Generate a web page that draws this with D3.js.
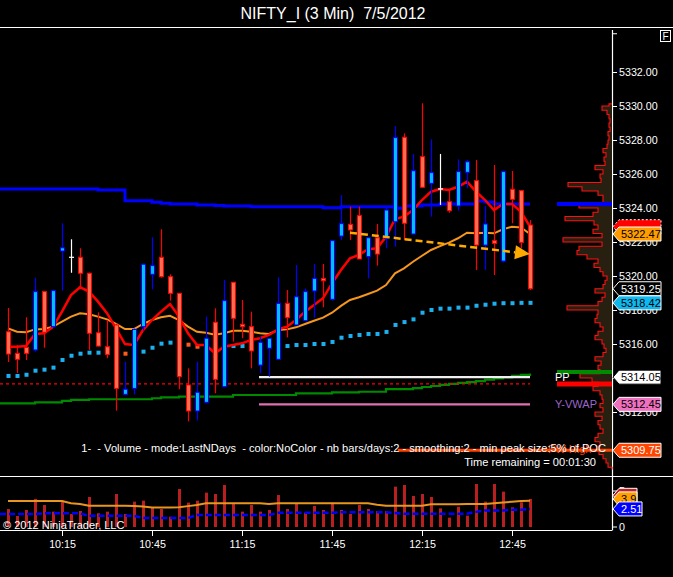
<!DOCTYPE html>
<html>
<head>
  <meta charset="UTF-8">
  <style>
    body { margin: 0; padding: 0; background: #000; }
    svg { display: block; font-family: Arial, "Liberation Sans", sans-serif; }
    text { white-space: pre; }
  </style>
</head>
<body>
<svg id="chart"></svg>
<script src="https://d3js.org/d3.v7.min.js"></script>
<script>
let width = 673, height = 577;

// 3 min bars, 7/5/2012
let opens  = [5316.72,5315.45,5315.80,5315.65,5319.08,5317.02,5321.47,5321.10,5321.10,5320.16,
              5316.66,5315.84,5317.12,5313.04,5313.39,5317.02,5320.10,5321.10,5319.96,5318.98,
              5313.59,5312.06,5312.57,5317.28,5313.49,5319.63,5317.16,5317.02,5314.76,5315.75,
              5315.10,5318.39,5317.12,5317.37,5319.12,5319.86,5318.63,5322.35,5323.04,5323.55,
              5321.14,5322.25,5322.22,5323.19,5328.16,5322.47,5327.02,5325.45,5325.12,5324.37,
              5324.12,5326.10,5325.61,5321.82,5322.08,5320.88,5325.10,5325.02,5323.00];
let highs  = [5318.12,5315.94,5317.57,5319.90,5319.10,5319.20,5323.10,5322.16,5321.63,5320.20,
              5317.86,5317.41,5317.20,5314.96,5316.90,5320.72,5322.28,5322.75,5320.10,5319.00,
              5314.57,5314.96,5317.61,5318.10,5319.76,5319.65,5318.59,5317.90,5316.43,5316.34,
              5319.92,5319.18,5320.65,5319.27,5320.71,5320.71,5322.10,5324.75,5324.08,5324.08,
              5322.25,5323.06,5324.08,5328.82,5328.39,5327.18,5330.16,5328.04,5327.18,5325.06,
              5326.86,5326.82,5326.82,5324.12,5326.53,5326.20,5326.18,5325.05,5323.29];
let lows   = [5314.94,5314.29,5315.06,5315.55,5315.78,5316.95,5319.14,5320.19,5319.34,5315.65,
              5315.85,5315.16,5312.08,5313.00,5313.04,5316.80,5319.22,5319.90,5318.55,5313.34,
              5311.45,5311.50,5312.50,5313.10,5313.45,5316.14,5316.34,5314.57,5314.28,5314.08,
              5315.05,5316.39,5317.10,5317.35,5317.55,5318.16,5318.55,5322.12,5322.12,5321.00,
              5319.86,5320.61,5321.63,5321.72,5322.12,5322.45,5325.20,5323.49,5324.18,5323.72,
              5323.84,5325.16,5320.35,5320.35,5320.06,5320.80,5323.10,5321.63,5319.18];
let closes = [5315.41,5315.10,5315.45,5319.08,5316.69,5319.14,5321.66,5321.10,5320.16,5316.63,
              5315.88,5315.39,5313.39,5313.34,5316.86,5320.69,5320.61,5319.96,5318.98,5314.08,
              5312.06,5313.16,5316.34,5313.92,5318.55,5317.51,5317.02,5315.59,5316.10,5316.34,
              5318.39,5317.55,5318.78,5319.08,5319.86,5319.72,5322.08,5323.08,5322.71,5321.00,
              5322.25,5321.29,5323.88,5328.14,5323.10,5326.19,5325.22,5326.08,5325.12,5323.84,
              5326.14,5326.72,5321.82,5323.06,5321.92,5326.14,5324.51,5321.98,5319.25];

// fast (red) and slow (orange) averages
let fastAvg = [5315.84,5315.84,5315.88,5316.59,5316.63,5317.00,5317.90,5318.88,5319.34,5319.08,
               5318.49,5317.81,5316.92,5316.00,5315.94,5316.82,5317.41,5317.90,5318.35,5317.61,
               5316.63,5315.94,5315.94,5315.45,5315.84,5315.94,5316.04,5316.24,5316.34,5316.53,
               5316.86,5317.02,5317.41,5317.90,5318.29,5318.69,5319.57,5320.35,5321.04,5321.24,
               5321.57,5321.63,5322.31,5323.35,5323.49,5323.88,5324.47,5324.96,5325.12,5325.06,
               5325.25,5325.55,5324.96,5324.47,5323.88,5324.24,5324.24,5323.78,5322.90];
let slowAvg = [5316.92,5316.72,5316.69,5316.86,5316.88,5317.02,5317.31,5317.61,5317.81,5317.75,
               5317.61,5317.45,5317.18,5316.88,5316.88,5317.18,5317.41,5317.57,5317.66,5317.41,
               5317.02,5316.72,5316.66,5316.55,5316.63,5316.78,5316.78,5316.72,5316.63,5316.59,
               5316.82,5316.86,5316.98,5317.18,5317.37,5317.55,5317.84,5318.24,5318.59,5318.75,
               5318.94,5319.14,5319.47,5320.16,5320.45,5320.84,5321.19,5321.53,5321.76,5321.96,
               5322.22,5322.55,5322.51,5322.55,5322.51,5322.75,5322.90,5322.86,5322.47];

// stop dots, 1 = orange (above price)
let stopDots = [5314.12,5314.12,5314.19,5314.43,5314.49,5314.61,5315.06,5315.31,5315.43,5315.49,
                5315.49,5315.49,5315.43,5315.43,5315.43,5315.55,5315.78,5316.02,5316.08,5316.08,
                5315.96,5315.84,5315.84,5315.82,5315.88,5315.88,5315.88,5315.88,5315.88,5315.88,
                5315.88,5315.88,5315.94,5315.94,5316.00,5316.00,5316.12,5316.37,5316.47,5316.53,
                5316.59,5316.59,5316.71,5317.12,5317.29,5317.45,5317.84,5318.00,5318.08,5318.08,
                5318.14,5318.14,5318.25,5318.31,5318.37,5318.40,5318.40,5318.42,5318.42];
let stopFlip = [0,0,0,0,0,0,0,0,0,0, 0,0,1,1,0,0,0,0,0,1, 1,1,1,1,0,0,0,0,1,1,
                0,0,0,0,0,0,0,0,0,0, 0,0,0,0,0,0,0,0,0,0, 0,0,0,0,0,0,0,0,0];

// VWAP (blue) and green step lines
let vwapLine = [5325.12,5325.12,5325.12,5325.12,5325.12,5325.12,5325.12,5325.12,5325.12,5325.12,
                5325.06,5325.06,5325.06,5324.43,5324.43,5324.43,5324.34,5324.28,5324.24,5324.24,
                5324.24,5324.18,5324.18,5324.14,5324.12,5324.12,5324.12,5324.08,5324.08,5324.08,
                5324.08,5324.08,5324.08,5324.08,5324.08,5324.02,5324.02,5324.08,5324.08,5324.08,
                5324.08,5324.08,5324.08,5323.98,5324.12,5324.12,5324.18,5324.18,5324.24,5324.24,
                5324.24,5324.24,5324.41,5324.35,5324.24,5324.24,5324.24,5324.24,5324.24];
let greenLine = [5312.51,5312.51,5312.51,5312.57,5312.57,5312.57,5312.65,5312.71,5312.71,5312.75,
                 5312.75,5312.75,5312.75,5312.75,5312.75,5312.75,5312.81,5312.86,5312.86,5312.90,
                 5312.90,5312.90,5312.90,5312.90,5312.90,5313.00,5313.00,5313.00,5313.00,5313.00,
                 5313.00,5313.00,5313.10,5313.10,5313.10,5313.10,5313.16,5313.16,5313.16,5313.19,
                 5313.19,5313.19,5313.34,5313.34,5313.34,5313.41,5313.47,5313.53,5313.59,5313.65,
                 5313.71,5313.76,5313.82,5313.91,5313.98,5314.04,5314.12,5314.18,5314.26];

let prevLevel = 5313.65;          // red dashed
let pivotPP = 5314.05, pivotFrom = 28;
let yVwap = 5312.45;
let pwHigh = 5309.75, pwHighFrom = 43.3;
let trendArrow = { fromBar: 38, fromPrice: 5322.55, toBar: 58, toPrice: 5321.29 };

// volume pane
let volumes = [2.5,1.53,2.36,3.89,3.06,2.13,3.66,1.8,2.22,4.17,
               1.9,2.13,4.58,1.8,3.52,3.66,2.73,2.5,1.43,5.28,
               3.38,3.66,4.77,4.58,5.83,3.19,2.13,3.06,2.13,2.36,
               4.44,2.5,3.29,1.99,2.92,2.36,3.38,2.36,1.8,3.06,
               2.5,2.22,2.22,5.6,5.83,4.31,4.58,4.17,2.59,1.3,
               2.82,1.57,5.97,3.52,5.97,4.91,2.73,3.43,3.89];
let volAvg = [3.61,3.61,3.61,3.61,3.61,3.61,3.61,3.3,3.2,2.95,
              2.95,2.95,2.95,2.95,2.92,2.85,2.7,2.7,2.7,2.75,
              2.9,3.05,3.29,3.29,3.29,3.29,3.29,3.29,3.29,3.2,
              3.29,3.29,3.29,3.29,3.29,3.29,3.29,3.29,3.29,3.29,
              3.29,3.1,2.95,2.95,2.95,2.95,2.95,3.15,3.15,3.15,
              3.15,3.2,3.2,3.2,3.3,3.4,3.5,3.6,3.65];
let volBlue = [1.8,1.8,1.8,1.8,1.9,1.9,1.9,1.9,1.9,1.55,
               1.55,1.55,1.55,1.55,1.55,1.25,1.25,1.25,1.25,1.25,
               1.25,1.67,1.67,1.67,1.67,1.67,1.67,1.67,1.67,1.67,
               1.97,1.97,1.97,1.97,1.97,1.97,1.97,2.04,2.04,2.04,
               2.04,2.04,2.04,1.95,1.85,1.85,1.85,1.85,1.85,1.85,
               1.85,1.85,2.1,2.3,2.3,2.3,2.4,2.4,2.51];

// volume profile, 0.25 steps down from 5330
let profileTop = 5330, profileStep = 0.25;
let profileWidths = [3,10,5,3,2,3,2,4,3,4, 5,9,6,8,7,17,9,12,11,44,
                     30,14,9,9,33,14,19,47,18,14, 19,10,49,10,33,35,25,14,18,12,
                     9,5,7,9,17,7,10,14,45,14, 15,17,12,9,14,17,10,8,6,9,
                     17,11,14,12,32,20,14,19,12,10, 9,12,9,17,10,14,12,9,14,17,
                     12,14,13,9,6,4];

let priceTicks = [5312,5314,5316,5318,5320,5322,5324,5326,5328,5330,5332];
let timeTickBars = [6,16,26,36,46,56];
let timeTickLabels = ["10:15","10:45","11:15","11:45","12:15","12:45"];

let svg = d3.select("#chart").attr("width", width).attr("height", height);
svg.append("rect").attr("width", width).attr("height", height).attr("fill", "#000");

let x = d3.scaleLinear().domain([0, 58]).range([8, 530]);
let y = d3.scaleLinear().domain([5312, 5332]).range([412, 72]);
let yVol = d3.scaleLinear().domain([0, 5]).range([527, 491]);
let xProf = d3.scaleLinear().domain([0, 55]).range([612, 557]);
let axisX = 612;

// title + frame
svg.append("text").attr("x", 333).attr("y", 19).attr("text-anchor", "middle")
    .attr("fill", "#fff").attr("font-size", 16).text("NIFTY_I (3 Min)  7/5/2012");

let frame = svg.append("g").attr("stroke", "#fff").attr("stroke-width", 1.2);
frame.append("line").attr("x1", 0).attr("x2", width).attr("y1", 27.5).attr("y2", 27.5);
frame.append("line").attr("x1", 0).attr("x2", width).attr("y1", 476.5).attr("y2", 476.5);
frame.append("line").attr("x1", 0).attr("x2", axisX).attr("y1", 530.5).attr("y2", 530.5);
frame.append("line").attr("x1", axisX + 0.5).attr("x2", axisX + 0.5).attr("y1", 30).attr("y2", 530.5);

svg.append("rect").attr("x", 660.5).attr("y", 30.5).attr("width", 10).attr("height", 11)
    .attr("fill", "#000").attr("stroke", "#fff");
svg.append("text").attr("x", 665.5).attr("y", 40).attr("text-anchor", "middle")
    .attr("fill", "#fff").attr("font-size", 10).text("F");

// volume profile (jagged outline through each level)
let profPts = [[axisX, y(profileTop + profileStep / 2)]];
profileWidths.forEach((w, i) => {
    profPts.push([xProf(w), y(profileTop - i * profileStep)]);
});
profPts.push([axisX, y(profileTop - (profileWidths.length - 1) * profileStep - profileStep / 2)]);
svg.append("path").attr("d", d3.line().curve(d3.curveStepAfter)(profPts))
    .attr("fill", "#272010").attr("stroke", "#ff1010").attr("stroke-width", 1.1);

// step lines
let stepLine = d3.line().x(d => d[0]).y(d => y(d[1])).curve(d3.curveStepAfter);
function stepPts(vals) {
    let pts = [[0, vals[0]]];
    vals.forEach((v, i) => pts.push([x(i), v]));
    return pts;
}
svg.append("path").attr("d", stepLine(stepPts(greenLine)))
    .attr("fill", "none").attr("stroke", "#008a00").attr("stroke-width", 2.2);
svg.append("path").attr("d", stepLine(stepPts(vwapLine)))
    .attr("fill", "none").attr("stroke", "#0000ff").attr("stroke-width", 3);

svg.append("line").attr("x1", 0).attr("x2", x(58)).attr("y1", y(prevLevel)).attr("y2", y(prevLevel))
    .attr("stroke", "#ff0000").attr("stroke-width", 1.3).attr("stroke-dasharray", "3,3");
svg.append("line").attr("x1", x(pivotFrom) - 1).attr("x2", x(58)).attr("y1", y(pivotPP)).attr("y2", y(pivotPP))
    .attr("stroke", "#f0f0f0").attr("stroke-width", 2.2);
svg.append("line").attr("x1", x(pivotFrom) - 1).attr("x2", x(58)).attr("y1", y(yVwap)).attr("y2", y(yVwap))
    .attr("stroke", "#e070b0").attr("stroke-width", 2.2);
svg.append("line").attr("x1", x(pwHighFrom)).attr("x2", axisX).attr("y1", y(pwHigh)).attr("y2", y(pwHigh))
    .attr("stroke", "#ff4500").attr("stroke-width", 3);

// right margin markers
let markers = [
    { v: vwapLine[58], c: "#0000ff", w: 4 },
    { v: greenLine[58] + 0.1, c: "#008a00", w: 4 },
    { v: prevLevel, c: "#ff0000", w: 5 }
];
markers.forEach(m => {
    svg.append("line").attr("x1", 557).attr("x2", axisX).attr("y1", y(m.v)).attr("y2", y(m.v))
        .attr("stroke", m.c).attr("stroke-width", m.w);
});

svg.append("text").attr("x", 555).attr("y", y(pivotPP) + 4).attr("fill", "#fff")
    .attr("font-size", 11).text("PP");
svg.append("text").attr("x", 555).attr("y", y(yVwap) + 4).attr("fill", "#9a66cc")
    .attr("font-size", 11).text("Y-VWAP");
svg.append("text").attr("x", 548).attr("y", y(pwHigh) + 3).attr("fill", "#ff4500")
    .attr("font-size", 11).text("PW High");

// stop dots
svg.append("g").selectAll("rect").data(stopDots).enter().append("rect")
    .attr("x", (d, i) => x(i) - 1.5).attr("y", d => y(d) - 2)
    .attr("width", 4).attr("height", 4)
    .attr("fill", (d, i) => stopFlip[i] ? "#ff5a1e" : "#1cb0f0");

// averages
let avgLine = d3.line().x((d, i) => x(i)).y(d => y(d)).curve(d3.curveLinear);
svg.append("path").attr("d", avgLine(slowAvg)).attr("fill", "none")
    .attr("stroke", "#f5961e").attr("stroke-width", 2);
svg.append("path").attr("d", avgLine(fastAvg)).attr("fill", "none")
    .attr("stroke", "#ff0000").attr("stroke-width", 2.5);

// candles
let bars = opens.map((o, i) => ({ i: i, o: o, h: highs[i], l: lows[i], c: closes[i] }));
let cg = svg.append("g");
bars.forEach(b => {
    let cx = x(b.i);
    let up = b.c > b.o, doji = b.c === b.o;
    let wick = doji ? "#fff" : (up ? "#0000ff" : "#ff0000");
    cg.append("line").attr("x1", cx + 0.5).attr("x2", cx + 0.5)
        .attr("y1", y(b.h)).attr("y2", y(b.l)).attr("stroke", wick).attr("stroke-width", 1.2);
    if (doji) {
        cg.append("line").attr("x1", cx - 2).attr("x2", cx + 3)
            .attr("y1", y(b.o)).attr("y2", y(b.o)).attr("stroke", "#fff").attr("stroke-width", 1.2);
    } else {
        let top = y(Math.max(b.o, b.c)), bot = y(Math.min(b.o, b.c));
        cg.append("rect").attr("x", cx - 1.5).attr("y", top)
            .attr("width", 4).attr("height", Math.max(1.5, bot - top))
            .attr("fill", up ? "#00bfff" : "#fa6e50")
            .attr("stroke", up ? "#0000ff" : "#ff0000").attr("stroke-width", 1);
    }
});

// trend arrow drawing
let ax1 = x(trendArrow.fromBar), ay1 = y(trendArrow.fromPrice);
let ax2 = x(trendArrow.toBar), ay2 = y(trendArrow.toPrice);
let ang = Math.atan2(ay2 - ay1, ax2 - ax1);
let bx = ax2 - 15 * Math.cos(ang), by = ay2 - 15 * Math.sin(ang);
svg.append("line").attr("x1", ax1).attr("y1", ay1).attr("x2", bx).attr("y2", by)
    .attr("stroke", "#ffaa00").attr("stroke-width", 2.5).attr("stroke-dasharray", "7,4");
svg.append("path")
    .attr("d", `M${ax2},${ay2}L${bx + 7 * Math.sin(ang)},${by - 7 * Math.cos(ang)}L${bx - 7 * Math.sin(ang)},${by + 7 * Math.cos(ang)}Z`)
    .attr("fill", "#ffaa00");

// indicator text
svg.append("text").attr("x", 606).attr("y", 452).attr("text-anchor", "end").attr("fill", "#fff")
    .attr("font-size", 11.1)
    .text("1-  - Volume - mode:LastNDays  - color:NoColor - nb bars/days:2 - smoothing:2 - min peak size:5% of POC");
svg.append("text").attr("x", 596).attr("y", 466).attr("text-anchor", "end").attr("fill", "#fff")
    .attr("font-size", 11.1).text("Time remaining = 00:01:30");

// price tags (drawn over the axis)
let f2 = d3.format(".2f");
let priceTags = [
    { v: fastAvg[58], txt: "", fill: "#ff0000", color: "#fff", dash: "2,2" },
    { v: slowAvg[58], txt: f2(slowAvg[58]), fill: "#ff9c00", color: "#000" },
    { v: closes[58], txt: f2(closes[58]), fill: "#000", color: "#fff" },
    { v: stopDots[58], txt: f2(stopDots[58]), fill: "#10b8f0", color: "#000" },
    { v: pivotPP, txt: f2(pivotPP), fill: "#fff", color: "#000", stroke: "#000" },
    { v: yVwap, txt: f2(yVwap), fill: "#f070c0", color: "#000" },
    { v: pwHigh, txt: f2(pwHigh), fill: "#ff4500", color: "#fff" }
];

// price axis; labels fully under a tag are not drawn
let ag = svg.append("g");
priceTicks.forEach(p => {
    ag.append("line").attr("x1", axisX).attr("x2", axisX + 5).attr("y1", y(p) + 0.5).attr("y2", y(p) + 0.5)
        .attr("stroke", "#fff");
    let covered = priceTags.some(t => t.txt && Math.abs(y(t.v) - y(p)) < 4);
    if (!covered) {
        ag.append("text").attr("x", axisX + 7).attr("y", y(p) + 4).attr("fill", "#fff")
            .attr("font-size", 10.7).text(f2(p));
    }
});
ag.append("line").attr("x1", axisX).attr("x2", axisX + 5).attr("y1", y(5334.25)).attr("y2", y(5334.25))
    .attr("stroke", "#fff");

function tag(yc, txt, fill, color, right, stroke, dash) {
    let g = svg.append("g");
    g.append("path")
        .attr("d", `M${axisX + 1},${yc}L${axisX + 7},${yc - 7}L${right},${yc - 7}L${right},${yc + 7}L${axisX + 7},${yc + 7}Z`)
        .attr("fill", fill).attr("stroke", stroke || "#fff").attr("stroke-width", 1)
        .attr("stroke-dasharray", dash || null);
    if (txt) {
        g.append("text").attr("x", axisX + 9).attr("y", yc + 4).attr("fill", color)
            .attr("font-size", 11).text(txt);
    }
}
priceTags.forEach(t => tag(y(t.v), t.txt, t.fill, t.color, 661, t.stroke, t.dash));

// volume pane
svg.append("g").selectAll("rect").data(volumes).enter().append("rect")
    .attr("x", (d, i) => x(i) - 1).attr("y", d => yVol(d))
    .attr("width", 3).attr("height", d => yVol(0) - yVol(d))
    .attr("fill", "#b82020");
svg.append("path").attr("d", d3.line().x((d, i) => x(i)).y(d => yVol(d))(volAvg))
    .attr("fill", "none").attr("stroke", "#e8961e").attr("stroke-width", 2);
svg.append("path")
    .attr("d", d3.line().x(d => d[0]).y(d => yVol(d[1]))([[0, volBlue[0]]].concat(volBlue.map((v, i) => [x(i), v]))))
    .attr("fill", "none").attr("stroke", "#0000ff").attr("stroke-width", 2.5).attr("stroke-dasharray", "6,3");

[0, 5].forEach(v => {
    svg.append("line").attr("x1", axisX).attr("x2", axisX + 5).attr("y1", yVol(v)).attr("y2", yVol(v))
        .attr("stroke", "#fff");
    svg.append("text").attr("x", axisX + 7).attr("y", yVol(v) + 4).attr("fill", "#fff")
        .attr("font-size", 10.7).text(v);
});
tag(yVol(4.4), "", "#c02020", "#fff", 637);
tag(yVol(3.9), "3.9", "#ffa000", "#000", 637);
tag(yVol(volBlue[58]), f2(volBlue[58]), "#0000ff", "#fff", 642);

svg.append("text").attr("x", 3).attr("y", 529).attr("fill", "#fff").attr("font-size", 11)
    .text("\u00a9 2012 NinjaTrader, LLC");

// time axis
timeTickBars.forEach((b, k) => {
    svg.append("line").attr("x1", x(b) + 0.5).attr("x2", x(b) + 0.5).attr("y1", 530).attr("y2", 536)
        .attr("stroke", "#fff");
    svg.append("text").attr("x", x(b) + 0.5).attr("y", 548).attr("text-anchor", "middle")
        .attr("fill", "#fff").attr("font-size", 10.7).text(timeTickLabels[k]);
});
</script>
</body>
</html>
